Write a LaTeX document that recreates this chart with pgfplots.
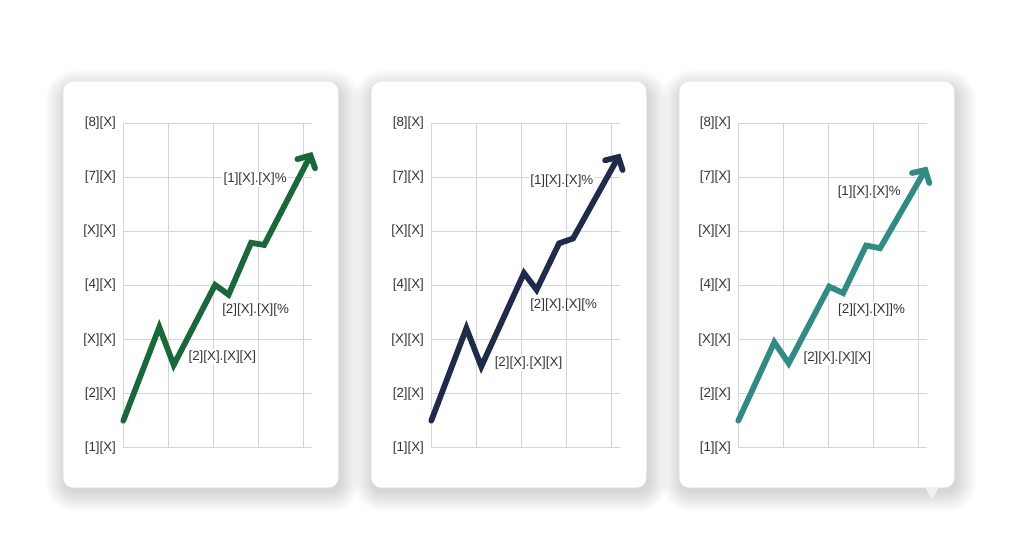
\documentclass[border=0pt]{standalone}
\usepackage{pgfplots}
\pgfplotsset{compat=1.18}
\usepackage{fontspec}
\setmainfont{Liberation Sans}
\usetikzlibrary{arrows.meta}

\definecolor{cgreen}{HTML}{17693A}
\definecolor{cnavy}{HTML}{1E2B4A}
\definecolor{cteal}{HTML}{2E8C85}
\definecolor{gridc}{HTML}{D4D4D4}
\definecolor{txt}{HTML}{333333}

% data, one table per card
\pgfplotstableread{
x y
0.00 1.50
0.80 3.23
1.12 2.53
2.04 4.01
2.34 3.83
2.84 4.79
3.13 4.75
4.20 6.47
}\greendata
\pgfplotstableread{
x y
0.00 1.50
0.78 3.21
1.11 2.50
2.06 4.23
2.34 3.92
2.84 4.78
3.15 4.87
4.20 6.44
}\navydata
\pgfplotstableread{
x y
0.00 1.50
0.80 2.95
1.12 2.56
2.02 3.98
2.33 3.86
2.84 4.74
3.15 4.69
4.20 6.20
}\tealdata

\pgfplotsset{
  card/.style={
    width=141.75pt, height=243.3pt, scale only axis,
    anchor=south west,
    xmin=0, xmax=4.2, ymin=1, ymax=7,
    xtick={0,1,2,3,4}, xticklabels={},
    ytick={1,2,3,4,5,6,7},
    yticklabels={{[1][X]},{[2][X]},{[X][X]},{[4][X]},{[X][X]},{[7][X]},{[8][X]}},
    grid=major,
    major grid style={gridc, line width=0.75pt},
    axis line style={draw=none},
    major tick length=0pt,
    yticklabel style={font=\fontsize{10}{12}\selectfont, text=txt, xshift=-2pt},
    clip=false,
  },
  trend/.style={line width=4.3pt, line cap=round, line join=miter,
    -{Straight Barb[length=7pt,width=15pt,line cap=round]}},
}
\tikzset{lbl/.style={fill=white, inner sep=1pt, text=txt,
  font=\fontsize{10}{12}\selectfont}}

\begin{document}
\begin{tikzpicture}
\useasboundingbox (0,0) rectangle (762.75pt,414.75pt);
\fill[white] (0,0) rectangle (762.75pt,414.75pt);
\begin{scope}[x=0.75pt,y=0.75pt]
\foreach \cx in {63.3,371.3,679.3}{
  % soft shadow, built from stacked translucent rectangles
  \foreach \s in {1,...,20}{
    \fill[black, opacity=0.0085, rounded corners={(7.5+0.75*\s)*1pt}]
      (\cx-\s+2,65.3-\s-4) rectangle (\cx+275+\s+2,471.3+\s-8);
  }
  \fill[white, rounded corners=7.5pt] (\cx,65.3) rectangle ++(275,406);
}
\fill[gray!12] (925,66) -- (939,66) -- (932,53) -- cycle;
\end{scope}

\begin{axis}[card, at={(92.475pt,78.975pt)}]
  \addplot[trend, cgreen] table {\greendata};
  \node[lbl] at (axis cs:2.93,5.96) {[1][X].[X]\%};
  \node[lbl] at (axis cs:2.94,3.55) {[2][X].[X][\%};
  \node[lbl] at (axis cs:2.20,2.68) {[2][X].[X][X]};
\end{axis}

\begin{axis}[card, at={(323.475pt,78.975pt)}]
  \addplot[trend, cnavy] table {\navydata};
  \node[lbl] at (axis cs:2.90,5.93) {[1][X].[X]\%};
  \node[lbl] at (axis cs:2.94,3.63) {[2][X].[X][\%};
  \node[lbl] at (axis cs:2.16,2.56) {[2][X].[X][X]};
\end{axis}

\begin{axis}[card, at={(553.725pt,78.975pt)}]
  \addplot[trend, cteal] table {\tealdata};
  \node[lbl] at (axis cs:2.91,5.73) {[1][X].[X]\%};
  \node[lbl] at (axis cs:2.96,3.55) {[2][X].[X]]\%};
  \node[lbl] at (axis cs:2.20,2.66) {[2][X].[X][X]};
\end{axis}
\end{tikzpicture}
\end{document}
